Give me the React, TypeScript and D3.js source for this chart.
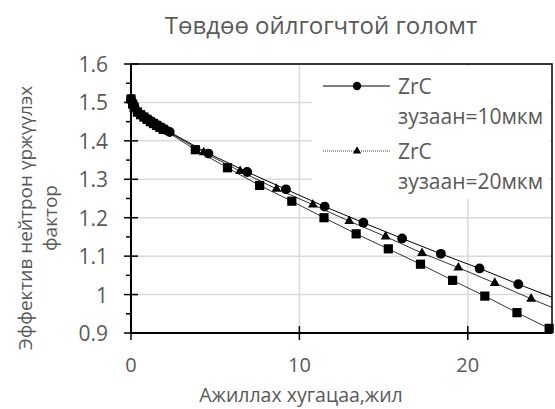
import React from "react";
import * as d3 from "d3";

// Ажиллах хугацаа (жил) / эффектив үржүүлэх фактор
const circleX = [0, 0.115, 0.23, 0.46, 0.69, 0.92, 1.15, 1.38, 1.61, 1.84, 2.07, 2.3, 4.6, 6.9, 9.2, 11.5, 13.8, 16.1, 18.4, 20.7, 23.0, 25.3];
const circleY = [1.509, 1.495, 1.485, 1.472, 1.465, 1.458, 1.452, 1.446, 1.44, 1.434, 1.428, 1.423, 1.367, 1.319, 1.274, 1.229, 1.187, 1.146, 1.106, 1.068, 1.027, 0.988];

const triangleX = [0, 0.108, 0.216, 0.432, 0.648, 0.864, 1.08, 1.296, 1.512, 1.728, 1.944, 2.16, 4.32, 6.48, 8.64, 10.8, 12.96, 15.12, 17.28, 19.44, 21.6, 23.76, 25.92];
const triangleY = [1.509, 1.495, 1.485, 1.473, 1.466, 1.459, 1.453, 1.447, 1.441, 1.436, 1.43, 1.425, 1.37, 1.321, 1.275, 1.234, 1.191, 1.151, 1.108, 1.07, 1.03, 0.989, 0.95];

const squareX = [0, 0.0955, 0.191, 0.382, 0.573, 0.764, 0.955, 1.146, 1.337, 1.528, 1.719, 1.91, 3.82, 5.73, 7.64, 9.55, 11.46, 13.37, 15.28, 17.19, 19.1, 21.01, 22.92, 24.83];
const squareY = [1.509, 1.496, 1.487, 1.475, 1.468, 1.462, 1.456, 1.45, 1.445, 1.44, 1.435, 1.43, 1.377, 1.33, 1.284, 1.243, 1.2, 1.158, 1.119, 1.079, 1.037, 0.996, 0.953, 0.912];

const xTicks = [0, 10, 20];
const yTicks = [0.9, 1, 1.1, 1.2, 1.3, 1.4, 1.5, 1.6];
const yMinorTicks = [0.95, 1.05, 1.15, 1.25, 1.35, 1.45, 1.55];

const legendLabels = [["ZrC", "зузаан=10мкм"], ["ZrC", "зузаан=20мкм"]];

const W = 555;
const H = 409;
const font = "'Open Sans', 'DejaVu Sans', sans-serif";
const grey = "#595959";

const App = () => {
  const x = d3.scaleLinear().domain([0, 25]).range([131, 552]);
  const y = d3.scaleLinear().domain([0.9, 1.6]).range([333, 64]);
  const [x0, x1] = x.range();
  const [y0, y1] = y.range();

  const line = (xs: number[], ys: number[]) =>
    d3.line<number>().x((d) => x(d)).y((d, i) => y(ys[i]))(xs) || "";

  const tri = d3.symbol().type(d3.symbolTriangle).size(42)() || "";
  const triSmall = d3.symbol().type(d3.symbolTriangle).size(30)() || "";

  return (
    <svg width={W} height={H} style={{ display: "block", position: "absolute", left: 0, top: 0, background: "#fff" }}>
      <defs>
        <clipPath id="plot">
          <rect x={x0} y={y1} width={x1 - x0} height={y0 - y1} />
        </clipPath>
      </defs>

      <text x={321} y={34} textAnchor="middle" fontFamily={font} fontSize={24} fill={grey}>
        Төвдөө ойлгогчтой голомт
      </text>

      {/* grid */}
      {yTicks.map((t) => (
        <line key={"gy" + t} x1={x0} x2={x1} y1={y(t)} y2={y(t)} stroke="#d9d9d9" strokeWidth={1.5} />
      ))}
      {xTicks.map((t) => (
        <line key={"gx" + t} x1={x(t)} x2={x(t)} y1={y0} y2={y1} stroke="#d9d9d9" strokeWidth={1.5} />
      ))}

      {/* series */}
      <g clipPath="url(#plot)" fill="none" stroke="#000">
        <path d={line(circleX, circleY)} strokeWidth={1} />
        <path d={line(triangleX, triangleY)} strokeWidth={0.8} />
        <path d={line(squareX, squareY)} strokeWidth={0.8} />
      </g>
      <g fill="#000">
        {squareX.map((d, i) => (
          <rect key={"s" + i} x={x(d) - 4.6} y={y(squareY[i]) - 4.6} width={9.2} height={9.2} />
        ))}
        {triangleX.filter((d) => d <= 25).map((d, i) => (
          <path key={"t" + i} d={tri} transform={`translate(${x(d)},${y(triangleY[i])})`} />
        ))}
        {circleX.filter((d) => d <= 25).map((d, i) => (
          <circle key={"c" + i} cx={x(d)} cy={y(circleY[i])} r={4.9} />
        ))}
      </g>

      {/* legend */}
      <rect x={312} y={66} width={238} height={133} fill="#fff" />
      {legendLabels.map((lab, i) => {
        const ly = 86 + i * 65;
        return (
          <g key={"lg" + i}>
            <line x1={323} x2={390} y1={ly} y2={ly} stroke={i === 0 ? "#000" : "#444"} strokeWidth={1}
              strokeDasharray={i === 0 ? undefined : "1,1"} />
            {i === 0 ? (
              <circle cx={357} cy={ly} r={4.2} fill="#000" />
            ) : (
              <path d={triSmall} transform={`translate(357,${ly})`} fill="#000" />
            )}
            <text x={398} y={ly + 8} fontFamily={font} fontSize={21} fill={grey}>{lab[0]}</text>
            <text x={398} y={ly + 38} fontFamily={font} fontSize={21} fill={grey}>{lab[1]}</text>
          </g>
        );
      })}

      {/* plot border & axes */}
      <rect x={x0} y={y1} width={x1 - x0} height={y0 - y1} fill="none" stroke="#000" strokeWidth={1.5} />
      <line x1={x0} x2={x0} y1={y0} y2={y1} stroke="#000" strokeWidth={2} />
      <line x1={x0} x2={x1} y1={y0} y2={y0} stroke="#000" strokeWidth={2} />
      {yTicks.map((t) => (
        <line key={"ty" + t} x1={x0 - 7} x2={x0 + 7} y1={y(t)} y2={y(t)} stroke="#000" strokeWidth={1.5} />
      ))}
      {yMinorTicks.map((t) => (
        <line key={"tm" + t} x1={x0 - 5} x2={x0} y1={y(t)} y2={y(t)} stroke="#000" strokeWidth={1.5} />
      ))}
      {xTicks.map((t) => (
        <line key={"tx" + t} x1={x(t)} x2={x(t)} y1={y0 - 7} y2={y0 + 7} stroke="#000" strokeWidth={1.5} />
      ))}

      {/* tick labels */}
      {yTicks.map((t) => (
        <text key={"ly" + t} x={108} y={y(t) + 8} textAnchor="end" fontFamily={font} fontSize={21} fill={grey}>
          {d3.format("~g")(t)}
        </text>
      ))}
      {xTicks.map((t) => (
        <text key={"lx" + t} x={x(t)} y={372} textAnchor="middle" fontFamily={font} fontSize={20} fill={grey}>
          {t}
        </text>
      ))}

      {/* axis titles */}
      <text x={301} y={402} textAnchor="middle" fontFamily={font} fontSize={19.5} fill={grey}>
        Ажиллах хугацаа,жил
      </text>
      <g transform={`translate(32,218) rotate(-90)`}>
        <text x={0} y={0} textAnchor="middle" fontFamily={font} fontSize={19} fill={grey}>
          Эффектив нейтрон үржүүлэх
        </text>
        <text x={0} y={25} textAnchor="middle" fontFamily={font} fontSize={19} fill={grey}>
          фактор
        </text>
      </g>
    </svg>
  );
};

export default App;
